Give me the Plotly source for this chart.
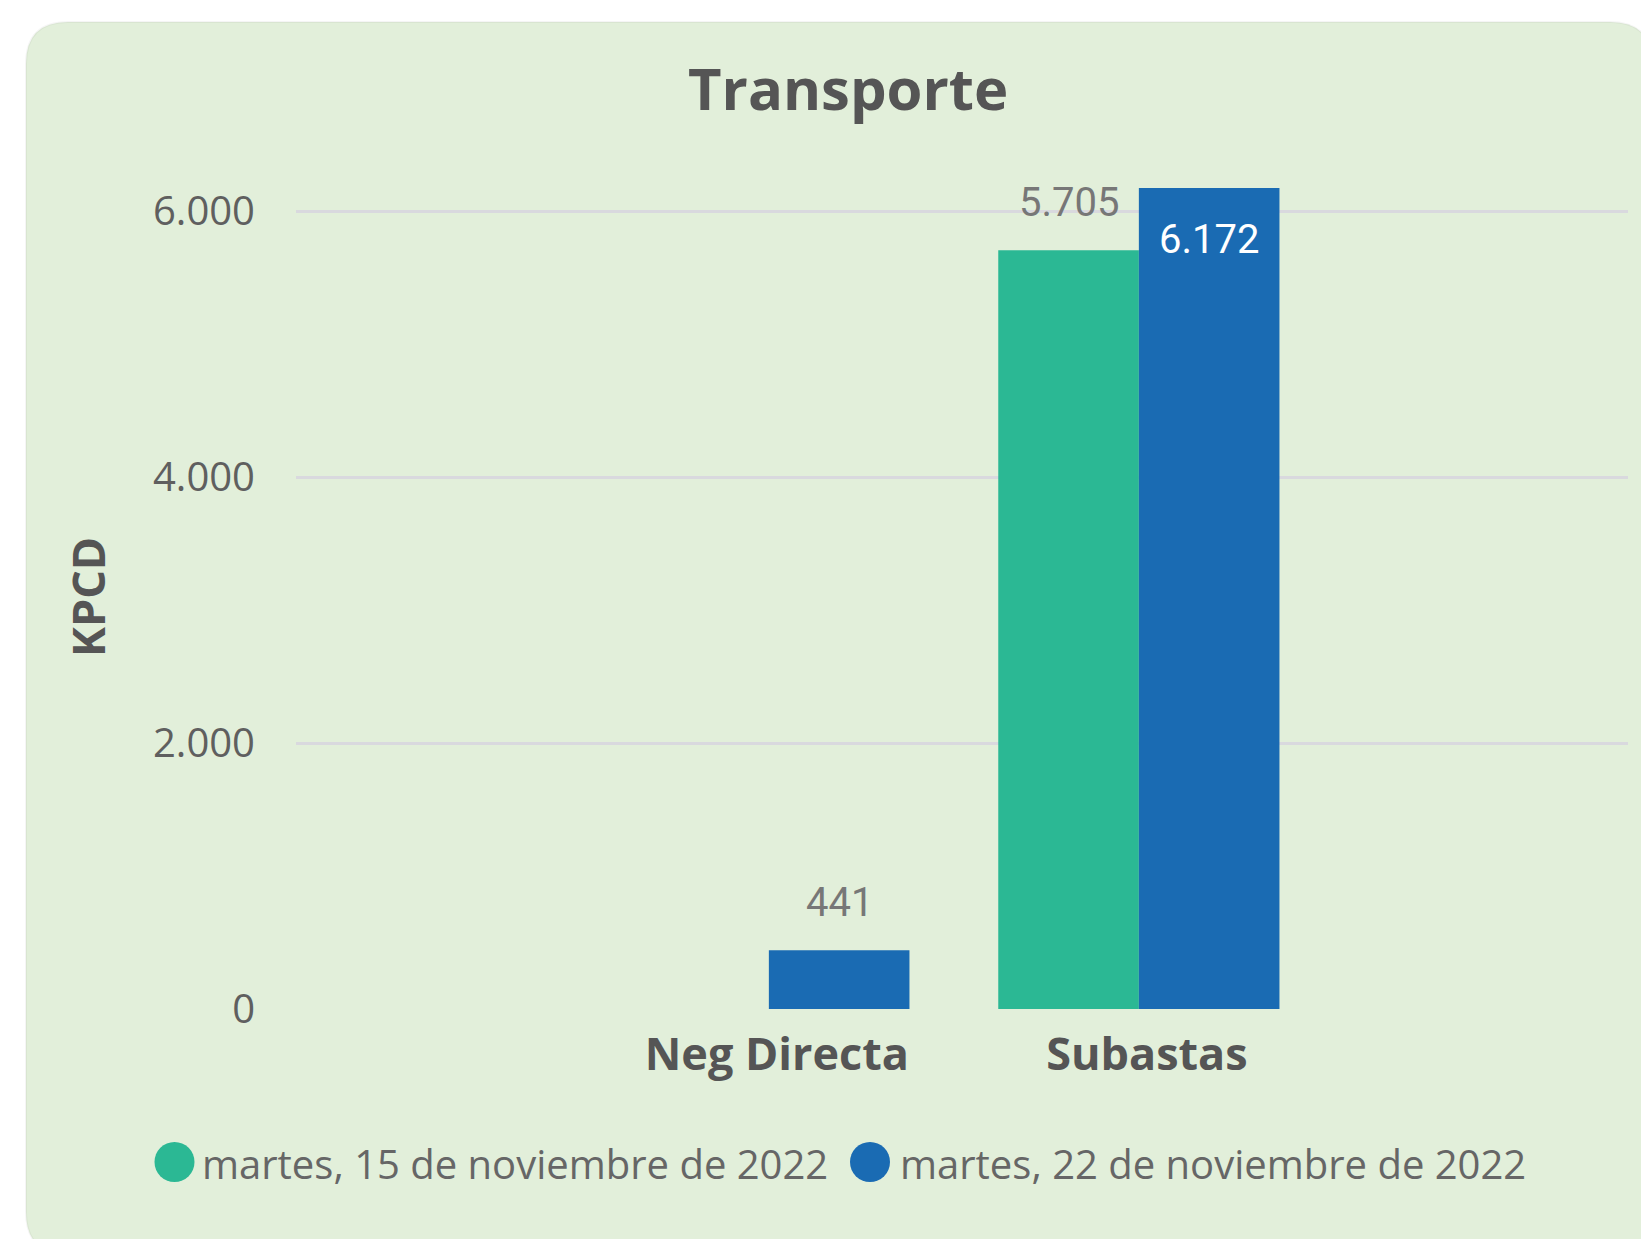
import plotly.graph_objects as go

# ---------------- data ----------------
categories = ["Neg Directa", "Subastas"]
series_names = ["martes, 15 de noviembre de 2022", "martes, 22 de noviembre de 2022"]
values_15nov = [None, 5705]
values_22nov = [441, 6172]
y_ticks = [0, 2000, 4000, 6000]
chart_title = "Transporte"
y_title = "KPCD"

# ---------------- styling ----------------
W, H = 1641, 1239
L, R, T, B = 296, 13, 184, 230
PW, PH = W - L - R, H - T - B
YMAX = 6203
colors = ["#2BB894", "#1A6BB3"]
panel_color = "#E2EFDA"
tick_color = "#5F5F5F"
dark = "#555555"
label_gray = "#777777"


def xp(px):
    return (px - L) / PW


def yp(py):
    return (H - B - py) / PH


fig = go.Figure()
for name, vals, col in zip(series_names, [values_15nov, values_22nov], colors):
    fig.add_trace(go.Bar(
        name=name, x=categories, y=vals, marker=dict(color=col, line=dict(width=0)),
        showlegend=False, hoverinfo="x+y",
    ))

# data labels
half = 0.5 * (1 - 0.24) / 2  # half a bar in category units
bar_px = half * 370
annotations = []
for si, vals in enumerate([values_15nov, values_22nov]):
    shift = -bar_px if si == 0 else bar_px
    for cat, v in zip(categories, vals):
        if v is None:
            continue
        txt = f"{v:,}".replace(",", ".")
        inside = v > YMAX * 0.95
        annotations.append(dict(
            x=cat, y=v, xref="x", yref="y", xshift=shift,
            text=txt, showarrow=False,
            yanchor="top" if inside else "bottom",
            yshift=-26 if inside else 22,
            font=dict(family="Roboto", size=40, color="white" if inside else label_gray),
        ))

# title and axis title
annotations.append(dict(x=xp(848), y=yp(88), xref="paper", yref="paper", text=f"<b>{chart_title}</b>",
                        showarrow=False, xanchor="center", yanchor="middle",
                        font=dict(family="Open Sans", size=58, color=dark)))
annotations.append(dict(x=xp(87), y=yp(597), xref="paper", yref="paper", text=f"<b>{y_title}</b>",
                        showarrow=False, textangle=-90, xanchor="center", yanchor="middle",
                        font=dict(family="Open Sans", size=45, color=dark)))

# manual legend
legend_pos = [(174.5, 200), (870, 898)]
shapes = []
for (cx, tx), name, col in zip(legend_pos, series_names, colors):
    r = 20
    cy = 1162
    shapes.append(dict(type="circle", xref="paper", yref="paper",
                       x0=xp(cx - r), x1=xp(cx + r), y0=yp(cy + r), y1=yp(cy - r),
                       fillcolor=col, line=dict(width=0), layer="above"))
    annotations.append(dict(x=xp(tx), y=yp(cy + 1), xref="paper", yref="paper", text=name,
                            showarrow=False, xanchor="left", yanchor="middle",
                            font=dict(family="Open Sans", size=40, color="#666666")))

# rounded panel background
x0, y0, x1, y1, rad = 26, 22, 1652, 1254, 42
path = (
    f"M {xp(x0 + rad)} {yp(y0)} L {xp(x1 - rad)} {yp(y0)} "
    f"Q {xp(x1)} {yp(y0)} {xp(x1)} {yp(y0 + rad)} "
    f"L {xp(x1)} {yp(y1 - rad)} Q {xp(x1)} {yp(y1)} {xp(x1 - rad)} {yp(y1)} "
    f"L {xp(x0 + rad)} {yp(y1)} Q {xp(x0)} {yp(y1)} {xp(x0)} {yp(y1 - rad)} "
    f"L {xp(x0)} {yp(y0 + rad)} Q {xp(x0)} {yp(y0)} {xp(x0 + rad)} {yp(y0)} Z"
)
shapes.insert(0, dict(type="path", path=path, xref="paper", yref="paper",
                      fillcolor=panel_color, line=dict(color="rgba(0,0,0,0.04)", width=2), layer="below"))

fig.update_layout(
    width=W, height=H, autosize=False,
    margin=dict(l=L, r=R, t=T, b=B, pad=0),
    paper_bgcolor="white", plot_bgcolor="rgba(0,0,0,0)",
    barmode="group", bargap=0.24, bargroupgap=0,
    separators=",.",
    showlegend=False,
    annotations=annotations, shapes=shapes,
    xaxis=dict(
        type="category", range=[-1.278, 2.322], showgrid=False, zeroline=False, showline=False,
        ticks="", ticklabelstandoff=15, ticklabelshift=8,
        tickfont=dict(family="Open Sans", size=45, color=dark, weight="bold"),
    ),
    yaxis=dict(
        range=[0, YMAX], tickvals=y_ticks, tickformat=",d",
        showgrid=True, gridcolor="#D9D9DE", gridwidth=3, zeroline=False, showline=False,
        ticks="", ticklabelstandoff=40,
        tickfont=dict(family="Open Sans", size=40, color=tick_color),
    ),
)

fig.write_html("out.html", config={"displayModeBar": False},
               post_script="document.body.style.margin='0';document.body.style.overflow='hidden';")
